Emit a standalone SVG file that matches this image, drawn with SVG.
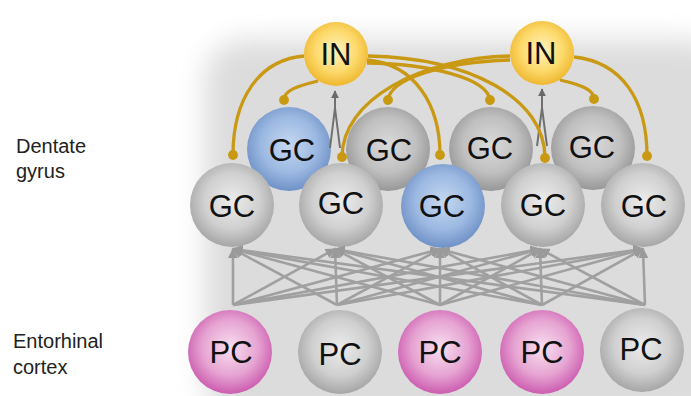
<svg xmlns="http://www.w3.org/2000/svg" width="691" height="396" viewBox="0 0 691 396">
<defs>
<radialGradient id="gGrey" cx="50%" cy="45%" r="55%"><stop offset="0" stop-color="#ececec"/><stop offset="0.6" stop-color="#d0d0d0"/><stop offset="1" stop-color="#a6a6a6"/></radialGradient>
<radialGradient id="gGreyB" cx="50%" cy="45%" r="55%"><stop offset="0" stop-color="#dadada"/><stop offset="0.6" stop-color="#c0c0c0"/><stop offset="1" stop-color="#979797"/></radialGradient>
<radialGradient id="gBlue" cx="50%" cy="45%" r="55%"><stop offset="0" stop-color="#c6d8f0"/><stop offset="0.6" stop-color="#9cb9e2"/><stop offset="1" stop-color="#6f91c6"/></radialGradient>
<radialGradient id="gPink" cx="50%" cy="45%" r="55%"><stop offset="0" stop-color="#f8e0f0"/><stop offset="0.6" stop-color="#e6a4d2"/><stop offset="1" stop-color="#cc5cb0"/></radialGradient>
<radialGradient id="gYel" cx="50%" cy="45%" r="55%"><stop offset="0" stop-color="#fff3c0"/><stop offset="0.6" stop-color="#fcd96a"/><stop offset="1" stop-color="#efb830"/></radialGradient>
<filter id="blur" x="-20%" y="-20%" width="140%" height="140%"><feGaussianBlur stdDeviation="14"/></filter>
<marker id="ahG" viewBox="0 0 10 10" refX="9" refY="5" markerWidth="4" markerHeight="4" orient="auto"><path d="M0,0 L10,5 L0,10 z" fill="#9a9a9a"/></marker>
<marker id="ahD" viewBox="0 0 10 10" refX="9" refY="5" markerWidth="4" markerHeight="4" orient="auto"><path d="M0,0 L10,5 L0,10 z" fill="#6a6a6a"/></marker>
<marker id="dot" viewBox="0 0 10 10" refX="5" refY="5" markerWidth="3" markerHeight="3" orient="auto"><circle cx="5" cy="5" r="5" fill="#c99914"/></marker>
</defs>
<style>
.lbl{font-family:"Liberation Sans","DejaVu Sans",sans-serif;font-size:20px;fill:#222}
.nt{font-family:"Liberation Sans","DejaVu Sans",sans-serif;font-size:31px;fill:#111;text-anchor:middle}
.ff{stroke:#a0a0a0;stroke-width:2.6;fill:none;marker-end:url(#ahG)}
.inh{stroke:#c99914;stroke-width:3.3;fill:none;marker-end:url(#dot)}
.exc{stroke:#707070;stroke-width:2;fill:none}
</style>
<rect width="691" height="396" fill="#ffffff"/>
<rect x="205" y="40" width="520" height="380" rx="40" fill="#dcdcdc" filter="url(#blur)"/>
<text class="lbl" x="16" y="153">Dentate</text>
<text class="lbl" x="16" y="178">gyrus</text>
<text class="lbl" x="13" y="348">Entorhinal</text>
<text class="lbl" x="13" y="374">cortex</text>

<g id="gc-back-1"><circle cx="289" cy="149" r="42" fill="url(#gBlue)"/><text class="nt" x="292" y="161">GC</text></g>
<g id="gc-back-2"><circle cx="388" cy="149" r="42" fill="url(#gGreyB)"/><text class="nt" x="389" y="161">GC</text></g>
<g id="gc-back-3"><circle cx="491" cy="149" r="42" fill="url(#gGreyB)"/><text class="nt" x="490" y="159">GC</text></g>
<g id="gc-back-4"><circle cx="593" cy="148" r="42" fill="url(#gGreyB)"/><text class="nt" x="592" y="158">GC</text></g>

<g id="gc-front-1"><circle cx="232" cy="205" r="42" fill="url(#gGrey)"/><text class="nt" x="232" y="217">GC</text></g>
<g id="gc-front-2"><circle cx="341" cy="205" r="42" fill="url(#gGrey)"/><text class="nt" x="341" y="214">GC</text></g>
<g id="gc-front-3"><circle cx="443" cy="206" r="42" fill="url(#gBlue)"/><text class="nt" x="442" y="217">GC</text></g>
<g id="gc-front-4"><circle cx="543" cy="205" r="42" fill="url(#gGrey)"/><text class="nt" x="543" y="216">GC</text></g>
<g id="gc-front-5"><circle cx="643" cy="205" r="42" fill="url(#gGrey)"/><text class="nt" x="644" y="217">GC</text></g>

<g id="pc-1"><circle cx="230" cy="352" r="42" fill="url(#gPink)"/><text class="nt" x="231" y="363">PC</text></g>
<g id="pc-2"><circle cx="340" cy="352" r="42" fill="url(#gGrey)"/><text class="nt" x="340" y="365">PC</text></g>
<g id="pc-3"><circle cx="440" cy="352" r="42" fill="url(#gPink)"/><text class="nt" x="440" y="363">PC</text></g>
<g id="pc-4"><circle cx="542" cy="352" r="42" fill="url(#gPink)"/><text class="nt" x="542" y="363">PC</text></g>
<g id="pc-5"><circle cx="642" cy="350" r="42" fill="url(#gGrey)"/><text class="nt" x="641" y="360">PC</text></g>

<g id="in-1"><circle cx="336" cy="54" r="32" fill="url(#gYel)"/><text class="nt" x="336" y="65">IN</text></g>
<g id="in-2"><circle cx="542" cy="53" r="32" fill="url(#gYel)"/><text class="nt" x="541" y="64">IN</text></g>

<g id="connectors">
<g id="ff">
<path class="ff" d="M233,305 L233,249"/><path class="ff" d="M233,305 L335,249"/><path class="ff" d="M233,305 L440,249"/><path class="ff" d="M233,305 L540,249"/><path class="ff" d="M233,305 L643,249"/>
<path class="ff" d="M337,305 L233,249"/><path class="ff" d="M337,305 L335,249"/><path class="ff" d="M337,305 L440,249"/><path class="ff" d="M337,305 L540,249"/><path class="ff" d="M337,305 L643,249"/>
<path class="ff" d="M440,305 L233,249"/><path class="ff" d="M440,305 L335,249"/><path class="ff" d="M440,305 L440,249"/><path class="ff" d="M440,305 L540,249"/><path class="ff" d="M440,305 L643,249"/>
<path class="ff" d="M542,305 L233,249"/><path class="ff" d="M542,305 L335,249"/><path class="ff" d="M542,305 L440,249"/><path class="ff" d="M542,305 L540,249"/><path class="ff" d="M542,305 L643,249"/>
<path class="ff" d="M645,305 L233,249"/><path class="ff" d="M645,305 L335,249"/><path class="ff" d="M645,305 L440,249"/><path class="ff" d="M645,305 L540,249"/><path class="ff" d="M645,305 L643,249"/>
</g>
<g id="exc">
<path class="exc" d="M330,148 L335,108 L340,148"/><path class="exc" d="M335,108 L335,91" marker-end="url(#ahD)"/>
<path class="exc" d="M537,146 L542,108 L547,146"/><path class="exc" d="M542,108 L542,89" marker-end="url(#ahD)"/>
</g>
<g id="inh">
<path class="inh" d="M304,56 C258,60 233,100 233,155"/>
<path class="inh" d="M318,81 C298,86 284,90 284,100"/>
<path class="inh" d="M367,60 C415,64 440,105 440,155"/>
<path class="inh" d="M367,63 C430,64 487,78 490,100"/>
<path class="inh" d="M368,56 C470,58 545,98 545,158"/>
<path class="inh" d="M510,56 C420,58 342,100 342,157"/>
<path class="inh" d="M510,60 C440,62 390,80 388,100"/>
<path class="inh" d="M560,80 C582,85 594,90 594,99"/>
<path class="inh" d="M574,57 C622,62 647,100 647,156"/>
</g>
</g>
</svg>
